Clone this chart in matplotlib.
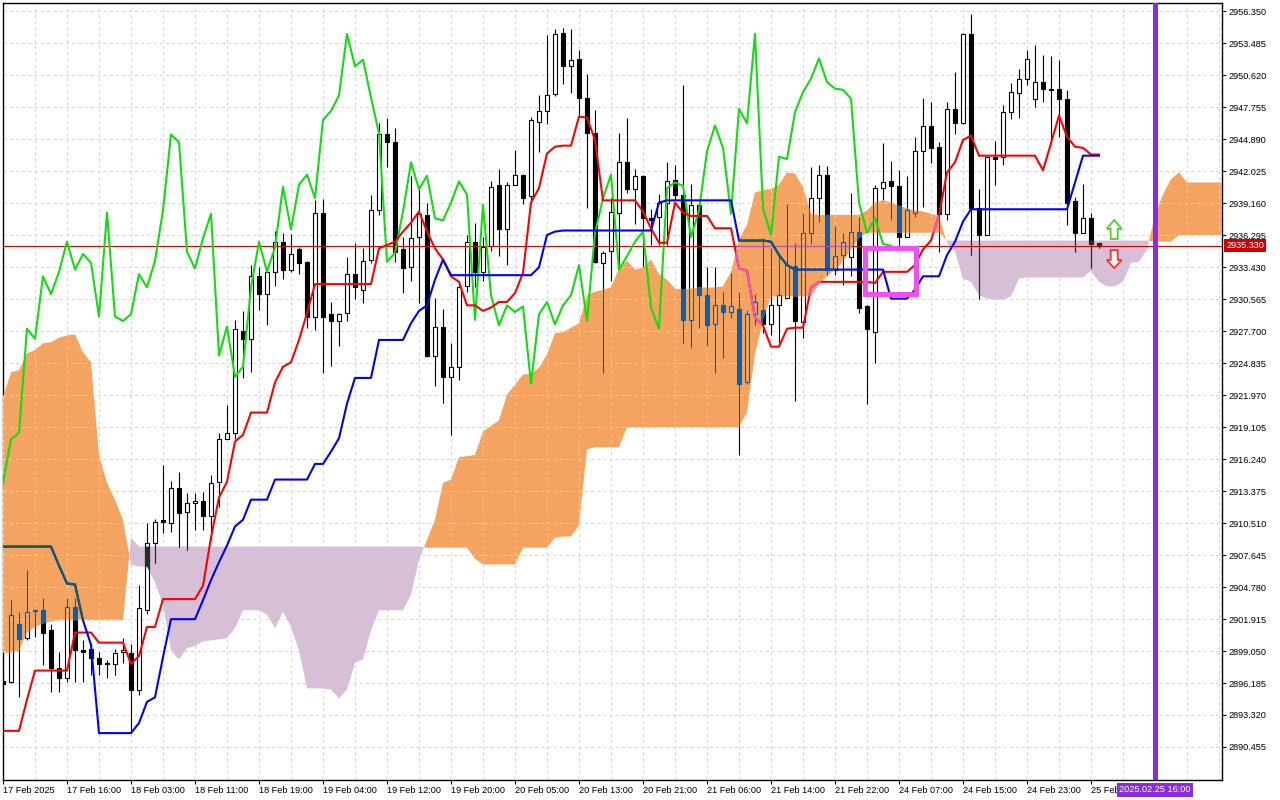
import matplotlib
matplotlib.use("Agg")
import matplotlib.pyplot as plt
import matplotlib.transforms as mtransforms
from matplotlib.path import Path
from matplotlib.patches import Polygon, Rectangle
import numpy as np

plt.rcParams['font.family'] = ['Liberation Sans', 'DejaVu Sans']

# XAUUSD H1, one bar per hour, index 0 = first visible bar
opens = [
    2896.4, 2896.3, 2901.5, 2900.2, 2902.6, 2902.7, 2900.9, 2897.5, 2896.6, 2903.0,
    2899.1, 2899.2, 2898.4, 2897.9, 2897.9, 2899.0, 2898.9, 2895.6, 2902.7, 2908.7,
    2910.8, 2910.5, 2913.6, 2911.5, 2912.3, 2912.5, 2911.1, 2914.2, 2918.0, 2918.6,
    2927.7, 2927.0, 2932.6, 2931.0, 2933.0, 2935.7, 2933.2, 2935.0, 2933.9, 2929.0,
    2938.3, 2929.2, 2928.6, 2929.3, 2932.8, 2931.4, 2934.1, 2938.5, 2945.3, 2944.6,
    2935.0, 2933.4, 2936.1, 2938.1, 2925.5, 2928.1, 2923.6, 2924.5, 2931.7, 2935.7,
    2933.0, 2935.3, 2940.8, 2936.8, 2940.8, 2941.7, 2939.8, 2946.4, 2947.4, 2948.9,
    2954.4, 2951.4, 2952.1, 2948.6, 2945.4, 2933.8, 2934.9, 2938.3, 2942.8, 2940.4,
    2941.6, 2937.8, 2937.9, 2939.2, 2941.2, 2939.9, 2928.7, 2939.0, 2930.9, 2928.3,
    2930.0, 2929.4, 2929.7, 2923.1, 2929.2, 2929.6, 2928.3, 2930.0, 2930.7, 2933.5,
    2928.5, 2936.5, 2939.6, 2941.7, 2933.2, 2934.5, 2934.3, 2936.6, 2929.9, 2927.6,
    2940.5, 2941.1, 2940.7, 2936.1, 2938.3, 2943.8, 2946.1, 2944.2, 2938.2, 2947.6,
    2946.3, 2954.3, 2938.7, 2936.3, 2943.3, 2943.3, 2947.3, 2949.0, 2950.3, 2948.5,
    2950.0, 2949.4, 2949.4, 2948.5, 2939.3, 2936.5, 2937.8, 2935.6]
highs = [
    2896.8, 2903.6, 2902.5, 2906.3, 2902.8, 2903.8, 2901.5, 2899.0, 2903.8, 2903.8,
    2900.0, 2899.8, 2899.0, 2898.2, 2899.2, 2900.2, 2899.7, 2905.0, 2910.5, 2910.9,
    2915.7, 2914.3, 2915.1, 2913.2, 2913.2, 2913.3, 2914.8, 2918.6, 2921.1, 2928.7,
    2929.5, 2933.6, 2933.4, 2933.4, 2936.7, 2936.5, 2936.4, 2935.2, 2934.0, 2939.4,
    2939.5, 2930.3, 2929.3, 2934.3, 2935.6, 2935.1, 2939.9, 2946.3, 2946.8, 2945.9,
    2936.1, 2941.6, 2940.5, 2939.2, 2930.7, 2929.7, 2926.6, 2932.1, 2936.3, 2937.4,
    2936.1, 2941.1, 2942.2, 2941.0, 2943.9, 2941.8, 2946.9, 2948.8, 2954.2, 2954.7,
    2954.8, 2954.7, 2952.9, 2950.7, 2947.5, 2934.9, 2939.6, 2945.4, 2946.8, 2942.2,
    2941.7, 2938.6, 2940.0, 2942.8, 2942.6, 2949.7, 2940.9, 2939.1, 2933.4, 2933.4,
    2931.2, 2932.9, 2931.2, 2929.6, 2931.0, 2936.0, 2935.1, 2934.7, 2939.1, 2935.6,
    2938.3, 2942.4, 2942.6, 2942.5, 2937.1, 2936.5, 2940.1, 2937.9, 2930.0, 2940.8,
    2944.5, 2942.9, 2942.1, 2941.6, 2945.1, 2948.6, 2948.2, 2944.6, 2948.2, 2950.9,
    2954.4, 2956.1, 2940.4, 2943.4, 2944.7, 2947.9, 2949.9, 2951.2, 2952.9, 2953.3,
    2952.4, 2952.3, 2952.0, 2949.3, 2939.7, 2940.9, 2938.3, 2935.6]
lows = [
    2895.8, 2896.2, 2894.9, 2900.0, 2900.3, 2897.8, 2895.4, 2895.4, 2896.3, 2896.3,
    2896.3, 2896.9, 2896.9, 2896.6, 2896.9, 2898.0, 2891.7, 2895.1, 2902.4, 2906.9,
    2909.6, 2909.7, 2908.4, 2908.1, 2909.9, 2909.9, 2909.0, 2911.9, 2918.0, 2918.0,
    2923.5, 2924.0, 2929.6, 2928.2, 2931.7, 2932.4, 2933.0, 2932.8, 2928.0, 2927.8,
    2923.9, 2924.6, 2926.4, 2928.6, 2930.6, 2930.2, 2933.8, 2938.1, 2942.4, 2933.9,
    2931.1, 2932.2, 2930.2, 2925.4, 2922.8, 2921.3, 2918.4, 2923.3, 2931.2, 2931.6,
    2932.2, 2934.9, 2934.4, 2933.6, 2940.8, 2939.1, 2939.4, 2943.7, 2946.2, 2948.7,
    2949.8, 2949.0, 2947.0, 2938.7, 2933.8, 2923.9, 2932.2, 2933.3, 2940.1, 2937.3,
    2933.4, 2935.4, 2935.4, 2935.4, 2939.4, 2926.6, 2926.2, 2928.0, 2926.4, 2923.9,
    2925.3, 2928.9, 2916.6, 2923.0, 2928.2, 2927.5, 2927.3, 2926.6, 2930.7, 2921.4,
    2927.1, 2935.5, 2937.5, 2932.7, 2932.7, 2931.8, 2932.6, 2929.3, 2921.2, 2924.8,
    2939.4, 2937.6, 2935.2, 2936.1, 2937.9, 2938.8, 2942.7, 2934.8, 2937.6, 2945.3,
    2946.2, 2934.5, 2930.6, 2936.3, 2940.8, 2942.6, 2946.7, 2946.8, 2949.7, 2947.8,
    2948.2, 2944.5, 2945.1, 2937.2, 2934.8, 2936.5, 2933.3, 2935.1]
closes = [
    2896.1, 2902.3, 2900.1, 2902.5, 2902.7, 2900.7, 2897.5, 2896.6, 2903.0, 2899.1,
    2899.0, 2898.4, 2897.9, 2898.0, 2898.9, 2899.1, 2895.6, 2902.9, 2908.7, 2910.6,
    2910.6, 2913.6, 2911.4, 2912.3, 2912.5, 2911.1, 2914.1, 2918.0, 2918.6, 2927.9,
    2927.0, 2932.6, 2931.0, 2933.0, 2935.7, 2933.2, 2934.6, 2933.8, 2929.0, 2938.3,
    2929.0, 2928.6, 2929.2, 2932.8, 2931.6, 2934.0, 2938.5, 2945.3, 2944.6, 2934.8,
    2933.3, 2936.0, 2938.2, 2925.5, 2928.1, 2923.6, 2924.5, 2931.6, 2935.7, 2933.0,
    2935.2, 2940.6, 2936.8, 2940.8, 2941.7, 2939.6, 2946.6, 2947.4, 2948.8, 2954.3,
    2951.4, 2952.0, 2948.6, 2945.4, 2933.9, 2934.7, 2938.4, 2942.8, 2940.4, 2941.6,
    2937.8, 2937.6, 2939.2, 2941.1, 2939.9, 2928.7, 2939.0, 2930.9, 2928.2, 2930.0,
    2929.4, 2929.9, 2923.0, 2929.2, 2930.3, 2928.3, 2930.0, 2930.9, 2933.6, 2928.6,
    2936.5, 2939.6, 2941.7, 2933.2, 2934.4, 2935.7, 2936.6, 2929.8, 2927.9, 2940.5,
    2941.0, 2940.7, 2936.1, 2938.5, 2943.8, 2946.1, 2944.1, 2938.2, 2947.6, 2946.3,
    2954.3, 2938.7, 2936.3, 2943.3, 2943.1, 2947.3, 2949.1, 2950.3, 2952.1, 2950.0,
    2949.4, 2949.3, 2948.5, 2939.2, 2936.5, 2937.8, 2935.5, 2935.33]

tenkan = [
    2891.9, 2891.9, 2891.9, 2894.7, 2897.3, 2897.3, 2897.3, 2897.3, 2897.3, 2900.7,
    2900.7, 2900.7, 2899.8, 2899.8, 2899.8, 2899.8, 2897.9, 2898.6, 2901.2, 2901.2,
    2903.7, 2903.7, 2903.7, 2903.7, 2903.7, 2904.9, 2909.2, 2912.8, 2914.2, 2917.8,
    2918.4, 2920.4, 2920.4, 2920.4, 2923.1, 2924.5, 2924.9, 2926.9, 2929.3, 2931.9,
    2931.9, 2931.9, 2931.9, 2931.9, 2931.9, 2931.9, 2931.9, 2935.1, 2935.4, 2935.7,
    2936.6, 2937.4, 2938.4, 2936.6, 2935.1, 2934.1, 2932.6, 2932.1, 2930.0, 2930.0,
    2929.5, 2929.8, 2930.3, 2930.3, 2931.1, 2932.9, 2939.2, 2940.5, 2943.6, 2944.2,
    2944.3, 2944.3, 2946.9, 2946.8, 2944.8, 2939.4, 2939.4, 2939.4, 2939.4, 2939.4,
    2938.4, 2936.9, 2935.6, 2935.6, 2939.2, 2938.3, 2938.0, 2938.0, 2938.0, 2936.9,
    2936.9, 2936.9, 2933.3, 2933.1, 2928.9, 2928.2, 2926.3, 2926.3, 2927.9, 2928.0,
    2928.0, 2931.6, 2932.1, 2932.1, 2932.1, 2932.1, 2932.1, 2932.1, 2932.1, 2932.0,
    2933.0, 2933.0, 2933.0, 2933.0, 2933.6, 2935.0, 2935.8, 2938.1, 2941.9, 2942.8,
    2944.8, 2945.2, 2943.4, 2943.4, 2943.4, 2943.4, 2943.4, 2943.4, 2943.4, 2943.4,
    2942.1, 2944.5, 2947.0, 2945.1, 2944.2, 2944.1, 2943.5, 2943.5]
kijun = [
    2908.4, 2908.4, 2908.4, 2908.4, 2908.4, 2908.4, 2908.4, 2906.7, 2905.1, 2905.0,
    2901.8, 2899.6, 2891.7, 2891.7, 2891.7, 2891.7, 2891.7, 2892.6, 2894.5, 2894.9,
    2898.5, 2901.9, 2901.9, 2901.9, 2901.9, 2903.6, 2905.4, 2907.0, 2908.5, 2910.2,
    2910.8, 2912.6, 2912.6, 2912.6, 2914.4, 2914.4, 2914.4, 2914.4, 2914.4, 2915.8,
    2915.8, 2916.9, 2918.1, 2921.2, 2923.5, 2923.5, 2923.5, 2926.9, 2926.9, 2926.9,
    2926.9, 2928.4, 2929.5, 2930.0, 2932.3, 2934.1, 2932.7, 2932.7, 2932.7, 2932.7,
    2932.7, 2932.7, 2932.7, 2932.7, 2932.7, 2932.7, 2932.7, 2933.4, 2936.3, 2936.6,
    2936.7, 2936.7, 2936.7, 2936.7, 2936.7, 2936.7, 2936.7, 2936.7, 2936.7, 2936.7,
    2936.7, 2936.7, 2939.2, 2939.4, 2939.4, 2939.4, 2939.4, 2939.4, 2939.4, 2939.4,
    2939.4, 2939.4, 2935.8, 2935.8, 2935.8, 2935.8, 2935.7, 2934.5, 2933.6, 2933.2,
    2933.2, 2933.2, 2933.2, 2933.2, 2933.2, 2933.2, 2933.2, 2933.2, 2933.2, 2933.2,
    2933.2, 2930.6, 2930.6, 2930.6, 2931.4, 2932.6, 2932.6, 2932.6, 2934.5, 2935.7,
    2937.5, 2938.6, 2938.6, 2938.6, 2938.6, 2938.6, 2938.6, 2938.6, 2938.6, 2938.6,
    2938.6, 2938.6, 2938.6, 2938.6, 2941.0, 2943.4, 2943.4, 2943.4]

# Senkou spans, already shifted 26 bars forward (index 0..153)
span_a = [
    2921.8, 2924.0, 2924.2, 2925.7, 2926.0, 2926.6, 2926.7, 2927.1, 2927.3, 2927.4,
    2925.8, 2924.9, 2916.6, 2914.1, 2912.6, 2910.8, 2906.8, 2906.6, 2906.6, 2905.2,
    2903.2, 2899.1, 2898.3, 2899.3, 2899.5, 2899.9, 2900.0, 2900.1, 2900.2, 2901.1,
    2902.7, 2902.7, 2902.7, 2902.3, 2901.1, 2902.6, 2901.2, 2899.1, 2895.7, 2895.7,
    2895.7, 2895.6, 2894.8, 2895.6, 2898.0, 2898.3, 2900.9, 2902.7, 2902.7, 2902.7,
    2902.7, 2904.1, 2907.2, 2909.0, 2910.8, 2914.1, 2914.4, 2916.4, 2916.5, 2916.6,
    2918.7, 2919.2, 2919.7, 2922.0, 2922.9, 2923.8, 2923.9, 2924.4, 2925.6, 2927.5,
    2927.6, 2928.0, 2928.4, 2930.9, 2931.2, 2931.4, 2931.6, 2933.3, 2934.0, 2933.2,
    2933.4, 2934.1, 2932.8, 2932.3, 2931.5, 2931.4, 2931.5, 2931.6, 2931.6, 2931.6,
    2931.7, 2933.0, 2935.9, 2937.2, 2940.1, 2940.3, 2940.4, 2940.8, 2941.9, 2941.8,
    2940.6, 2938.2, 2938.1, 2938.1, 2938.1, 2938.1, 2938.1, 2938.1, 2938.5, 2939.2,
    2939.4, 2939.2, 2938.9, 2938.7, 2938.5, 2938.4, 2938.2, 2938.0, 2935.6, 2934.8,
    2932.4, 2932.1, 2930.9, 2930.6, 2930.5, 2930.5, 2930.8, 2932.4, 2932.5, 2932.5,
    2932.5, 2932.5, 2932.5, 2932.5, 2932.5, 2932.5, 2933.1, 2932.1, 2931.7, 2931.7,
    2932.1, 2933.8, 2933.9, 2935.0, 2938.1, 2939.9, 2941.3, 2941.9, 2941.0, 2941.0,
    2941.0, 2941.0, 2941.0, 2941.0]
span_b = [
    2898.9, 2898.9, 2899.1, 2900.7, 2901.2, 2901.5, 2901.7, 2901.8, 2901.8, 2901.8,
    2901.8, 2901.8, 2901.8, 2901.8, 2901.8, 2901.8, 2909.2, 2908.4, 2908.4, 2908.4,
    2908.4, 2908.4, 2908.4, 2908.4, 2908.4, 2908.4, 2908.4, 2908.4, 2908.4, 2908.4,
    2908.4, 2908.4, 2908.4, 2908.4, 2908.4, 2908.4, 2908.4, 2908.4, 2908.4, 2908.4,
    2908.4, 2908.4, 2908.4, 2908.4, 2908.4, 2908.4, 2908.4, 2908.4, 2908.4, 2908.4,
    2908.4, 2908.4, 2908.4, 2908.3, 2908.3, 2908.3, 2908.3, 2908.3, 2908.3, 2907.3,
    2906.8, 2906.8, 2906.8, 2906.8, 2906.8, 2908.3, 2908.3, 2908.3, 2908.3, 2909.2,
    2909.3, 2909.3, 2910.3, 2917.1, 2917.3, 2917.3, 2917.3, 2917.3, 2919.1, 2919.1,
    2919.1, 2919.1, 2919.1, 2919.1, 2919.1, 2919.1, 2919.1, 2919.1, 2919.1, 2919.1,
    2919.1, 2919.1, 2919.1, 2920.4, 2925.6, 2928.7, 2930.8, 2930.8, 2930.8, 2930.8,
    2930.8, 2930.8, 2931.9, 2932.6, 2933.2, 2933.9, 2935.0, 2936.0, 2936.5, 2936.5,
    2936.5, 2936.5, 2936.5, 2936.5, 2936.5, 2936.5, 2936.5, 2936.5, 2935.8, 2935.8,
    2935.8, 2935.8, 2935.8, 2935.8, 2935.8, 2935.8, 2935.8, 2935.8, 2935.8, 2935.8,
    2935.8, 2935.8, 2935.8, 2935.8, 2935.8, 2935.8, 2935.8, 2935.8, 2935.8, 2935.8,
    2935.8, 2935.8, 2935.8, 2935.8, 2935.7, 2935.7, 2935.7, 2936.3, 2936.3, 2936.3,
    2936.3, 2936.3, 2936.3, 2936.3]

time_labels = ["17 Feb 2025", "17 Feb 16:00", "18 Feb 03:00", "18 Feb 11:00", "18 Feb 19:00",
               "19 Feb 04:00", "19 Feb 12:00", "19 Feb 20:00", "20 Feb 05:00", "20 Feb 13:00",
               "20 Feb 21:00", "21 Feb 06:00", "21 Feb 14:00", "21 Feb 22:00", "24 Feb 07:00",
               "24 Feb 15:00", "24 Feb 23:00", "25 Feb 07:00"]
price_ticks = [2890.455, 2893.320, 2896.185, 2899.050, 2901.915, 2904.780, 2907.645, 2910.510,
               2913.375, 2916.240, 2919.105, 2921.970, 2924.835, 2927.700, 2930.565, 2933.430,
               2936.295, 2939.160, 2942.025, 2944.890, 2947.755, 2950.620, 2953.485, 2956.350]

current_price = 2935.33
chikou_shift = 26
vline_bar = 144
vline_label = "2025.02.25 16:00"
# drawn box (bar index from/to, price from/to)
box_bars = (107.75, 114.1)
box_prices = (2931.02, 2935.14)
# signal arrows: bar, (base, neck, tip)
arrow_bar = 138.9
up_arrow = (2935.94, 2936.84, 2937.65)
down_arrow = (2934.95, 2934.06, 2933.34)

o = np.array(opens); h = np.array(highs); l = np.array(lows); c = np.array(closes)
idx = np.arange(len(c))
a = np.array(span_a); b = np.array(span_b)
cloud_x = np.arange(len(a))

fig = plt.figure(figsize=(12.8, 8), dpi=100)
ax = fig.add_axes([2.6 / 1280, 20 / 800, 1219.4 / 1280, 777 / 800])
x_lo, x_hi = -0.05, 152.375
y_lo, y_hi = 2887.50, 2957.07
ax.set_xlim(x_lo, x_hi)
ax.set_ylim(y_lo, y_hi)

# grid
grid_kw = dict(linestyles=(0, (3, 3)), linewidth=0.75)
gx = np.arange(0, 153, 4)
ax.vlines(gx, y_lo, y_hi, colors='#d9d9d9', zorder=0.5, **grid_kw)
ax.hlines(price_ticks, x_lo, x_hi, colors='#d9d9d9', zorder=0.5, **grid_kw)

# cloud
lav = ax.fill_between(cloud_x, a, b, where=a < b, interpolate=True,
                      color='#d8bfd8', lw=0, zorder=1)
orng = ax.fill_between(cloud_x, a, b, where=a >= b, interpolate=True,
                       color='#f4a460', lw=0, zorder=3)
orange_clip = Path.make_compound_path(*orng.get_paths())
lav_clip = Path.make_compound_path(*lav.get_paths())

# grid seen through the orange cloud
g1 = ax.vlines(gx, y_lo, y_hi, colors='#f8caa0', zorder=3.1, **grid_kw)
g2 = ax.hlines(price_ticks, x_lo, x_hi, colors='#f8caa0', zorder=3.1, **grid_kw)
for g in (g1, g2):
    g.set_clip_path(orange_clip, ax.transData)


def draw_candles(up_face, edge_up, col_down, z, clip=None):
    top = np.maximum(o, c)
    bot = np.minimum(o, c)
    bull = c >= o
    wick_cols = [edge_up if u else col_down for u in bull]
    arts = [ax.vlines(idx, top, h, colors=wick_cols, lw=0.8, zorder=z),
            ax.vlines(idx, l, bot, colors=wick_cols, lw=0.8, zorder=z)]
    height = np.maximum(top - bot, 0.05)
    bars = ax.bar(idx, height, width=0.56, bottom=bot,
                  color=[up_face if u else col_down for u in bull],
                  edgecolor=wick_cols, linewidth=0.8, zorder=z)
    arts.extend(bars.patches)
    if clip is not None:
        for art in arts:
            art.set_clip_path(clip, ax.transData)


draw_candles('white', 'black', 'black', 2)
draw_candles('#1e3326', '#1e3326', '#1e3326', 2.2, lav_clip)
draw_candles('none', '#0f5ea8', '#0f5ea8', 4, orange_clip)

# lines
ax.axhline(current_price, color='#dd0000', lw=0.8, zorder=5)
ax.plot(idx - chikou_shift, c, color='#11dd11', lw=1.5, zorder=5)
ax.plot(idx, tenkan, color='#ff0000', lw=1.5, zorder=5)
ax.plot(idx, kijun, color='#0000ff', lw=1.5, zorder=5)
p1 = ax.axhline(current_price, color='#b85aa8', lw=0.8, zorder=5.5)
p2, = ax.plot(idx, tenkan, color='#f252c4', lw=1.5, zorder=5.5)
p3, = ax.plot(idx, kijun, color='#0d5e66', lw=1.5, zorder=5.5)
for art in (p1, p2, p3):
    art.set_clip_path(orange_clip, ax.transData)

# drawn box
ax.add_patch(Rectangle((box_bars[0], box_prices[0]), box_bars[1] - box_bars[0],
                       box_prices[1] - box_prices[0], fill=False, ec='#f24ff2',
                       lw=3.6, joinstyle='miter', zorder=6))

# arrows
def arrow(base, neck, tip, edge):
    hw, sw = 0.94, 0.44
    pts = [(arrow_bar - sw, base), (arrow_bar + sw, base), (arrow_bar + sw, neck),
           (arrow_bar + hw, neck), (arrow_bar, tip), (arrow_bar - hw, neck),
           (arrow_bar - sw, neck)]
    ax.add_patch(Polygon(pts, closed=True, fc='white', ec=edge, lw=1.3, zorder=6))


arrow(*up_arrow, '#55cc33')
arrow(*down_arrow, '#ff3030')

# period separator
ax.axvline(vline_bar, color='#8a2be2', lw=3.6, zorder=7)

# axes styling
for sp in ax.spines.values():
    sp.set_color('black')
    sp.set_linewidth(1)
ax.yaxis.tick_right()
ax.set_yticks(price_ticks)
ax.set_yticklabels([f"{p:.3f}" for p in price_ticks])
ax.set_xticks(np.arange(len(time_labels)) * 8)
ax.set_xticklabels(time_labels)
for lab in ax.get_xticklabels():
    lab.set_horizontalalignment('left')
ax.tick_params(axis='both', direction='out', length=3, width=0.8, colors='black',
               labelsize=6.6, pad=1.5)

trans_y = mtransforms.blended_transform_factory(ax.transAxes, ax.transData)
ax.text(1.0 + 4 / 1219.4, current_price, f"{current_price:.3f}", transform=trans_y,
        ha='left', va='center', fontsize=6.6, color='white', clip_on=False, zorder=10,
        bbox=dict(boxstyle='square,pad=0.2', fc='#d00000', ec='none'))
trans_x = mtransforms.blended_transform_factory(ax.transData, ax.transAxes)
ax.text(vline_bar, -10 / 777, vline_label, transform=trans_x, ha='center', va='center',
        fontsize=6.6, color='white', clip_on=False, zorder=10,
        bbox=dict(boxstyle='square,pad=0.25', fc='#8a2be2', ec='none'))

fig.savefig("out.png", dpi=100, facecolor='white')
